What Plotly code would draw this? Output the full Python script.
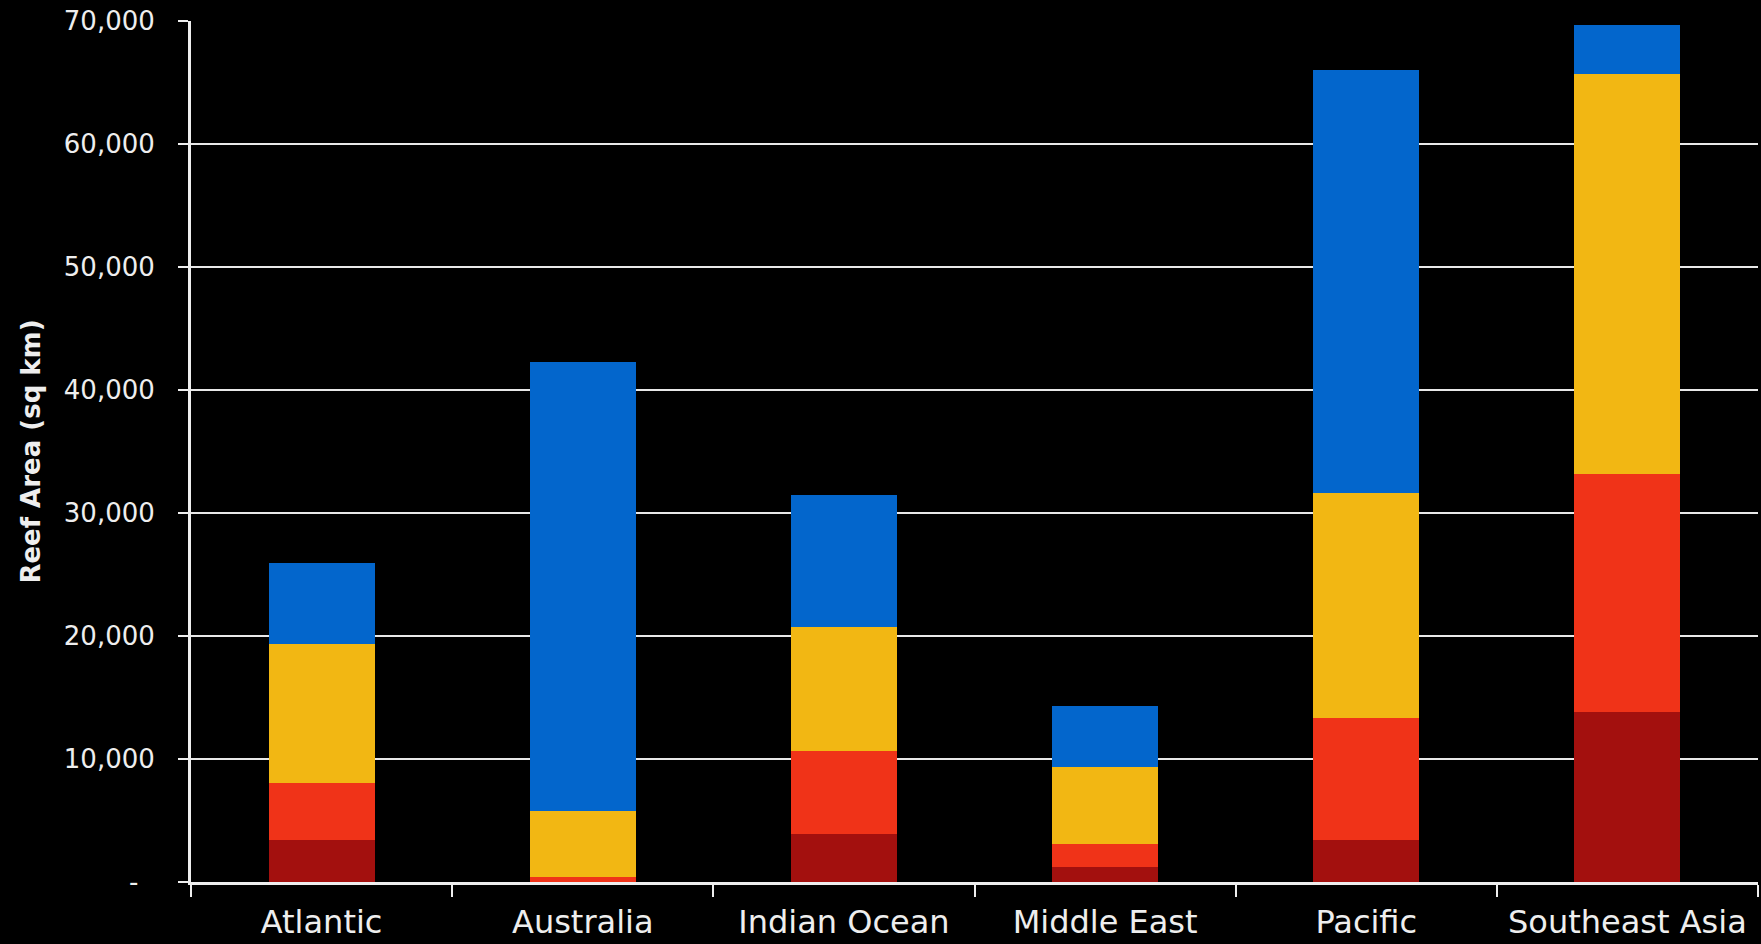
import plotly.graph_objects as go

regions = ["Atlantic", "Australia", "Indian Ocean", "Middle East", "Pacific", "Southeast Asia"]

# Reef area (sq km) by threat level, stacked bottom to top
very_high = [3450, 40, 3900, 1200, 3450, 13830]
high = [4600, 340, 6750, 1850, 9900, 19340]
medium = [11300, 5400, 10100, 6300, 18270, 32550]
low = [6600, 36520, 10750, 5000, 34430, 3980]

series_names = ["Very High", "High", "Medium", "Low"]
series_values = [very_high, high, medium, low]
series_colors = ["#A3100E", "#F03318", "#F2B713", "#0366CC"]

y_tick_vals = [0, 10000, 20000, 30000, 40000, 50000, 60000, 70000]
y_tick_text = ["-\u00a0\u00a0", "10,000", "20,000", "30,000", "40,000", "50,000", "60,000", "70,000"]

fig = go.Figure()
for name, vals, col in zip(series_names, series_values, series_colors):
    fig.add_trace(go.Bar(x=regions, y=vals, name=name, marker=dict(color=col, line=dict(width=0)),
                         showlegend=False))

text_col = "#eeeeee"
fig.update_layout(
    barmode="stack",
    bargap=0.594,
    width=1761, height=944,
    margin=dict(l=191, r=3, t=21, b=60),
    paper_bgcolor="black", plot_bgcolor="black",
    font=dict(family="DejaVu Sans", color=text_col),
    xaxis=dict(
        showline=True, linecolor=text_col, linewidth=3,
        ticks="outside", tickson="boundaries", ticklen=12, tickwidth=2, tickcolor=text_col,
        ticklabelstandoff=10,
        tickfont=dict(size=32, color=text_col, family="DejaVu Sans"),
        showgrid=False,
    ),
    yaxis=dict(
        range=[0, 70000],
        tickvals=y_tick_vals, ticktext=y_tick_text,
        showline=True, linecolor=text_col, linewidth=3,
        ticks="outside", ticklen=10, tickwidth=2, tickcolor=text_col,
        ticklabelstandoff=18,
        tickfont=dict(size=26, color=text_col, family="DejaVu Sans"),
        showgrid=True, gridcolor="#e8e8e8", gridwidth=2,
        zeroline=False,
        title=dict(text="<b>Reef Area (sq km)</b>", standoff=16,
                   font=dict(size=26, color=text_col, family="DejaVu Sans")),
    ),
)

fig.write_html("out.html")
